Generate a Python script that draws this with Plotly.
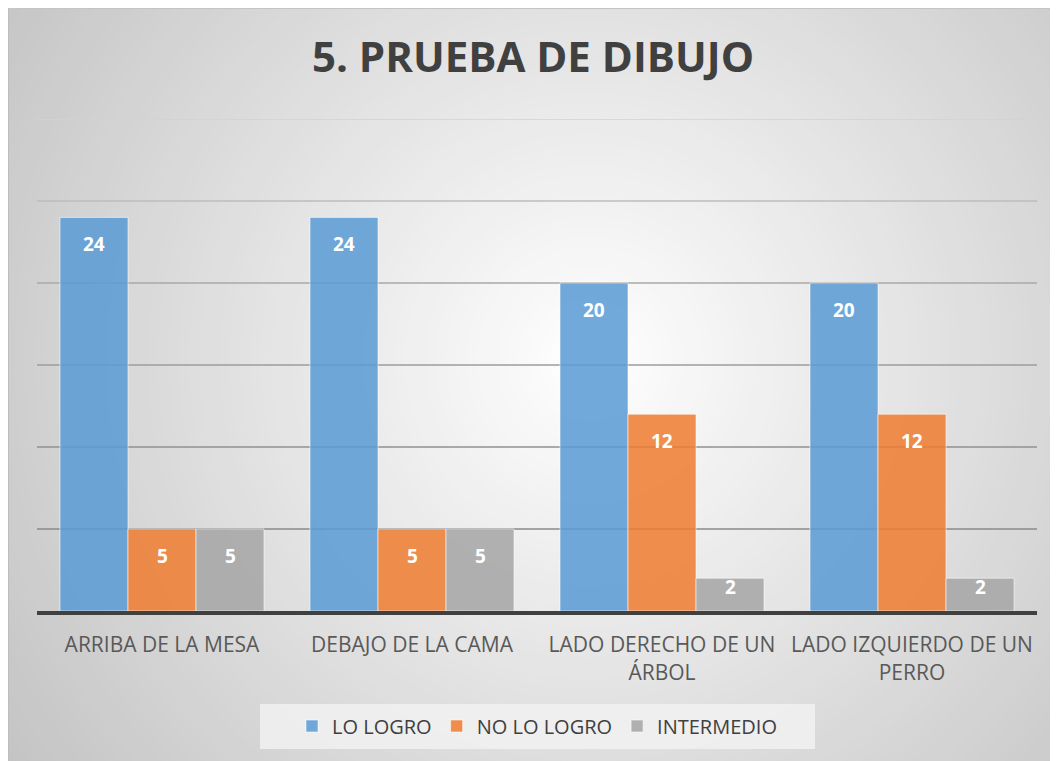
import plotly.graph_objects as go

categories = ["ARRIBA DE LA MESA", "DEBAJO DE LA CAMA",
              "LADO DERECHO DE UN<br>ÁRBOL", "LADO IZQUIERDO DE UN<br>PERRO"]
lo_logro = [24, 24, 20, 20]
no_lo_logro = [5, 5, 12, 12]
intermedio = [5, 5, 2, 2]
series_names = ["LO LOGRO", "NO LO LOGRO", "INTERMEDIO"]
series_colors = ["rgba(91,155,213,0.86)", "rgba(237,125,49,0.86)", "rgba(165,165,165,0.86)"]
grid_values = [5, 10, 15, 20, 25, 30]
grid_colors = ["#8a8a8a", "#909090", "#9c9c9c", "#a8a8a8", "#bcbcbc", "#d2d2d2"]

# page has an 8px body margin: figure starts at screen (8, 8)
OFF = 8
SW, SH = 1058, 761
W, H = SW - OFF, SH - OFF
PL, PR, PT, PB = 37, 1037, 119, 611   # plot area in screen pixels
ML, MR, MT, MB = PL - OFF, SW - PR, PT - OFF, SH - PB
PW, PH = PR - PL, PB - PT
YMAX = 30
BARGAP = 0.184


def px(x):
    return (x - PL) / PW


def py(y):
    return (PB - y) / PH


fig = go.Figure()
all_series = [lo_logro, no_lo_logro, intermedio]
for name, vals, col in zip(series_names, all_series, series_colors):
    fig.add_trace(go.Bar(
        x=categories, y=vals, name=name,
        marker=dict(color=col, line=dict(color="rgba(255,255,255,0.55)", width=1)),
    ))

# data labels (inside end, white bold)
group_px = PW / len(categories)
bar_px = group_px * (1 - BARGAP) / len(all_series)
annotations = []
for k, vals in enumerate(all_series):
    for cat, v in zip(categories, vals):
        h = v * PH / YMAX
        off = min(27, h - 24)
        annotations.append(dict(
            x=cat, y=v, xref="x", yref="y", text=f"<b>{v}</b>", showarrow=False,
            xshift=(k - 1) * bar_px, yshift=-off, yanchor="middle",
            font=dict(family="Open Sans", size=19, color="white")))

shapes = []
# radial background gradient
cx, cy = 590, 360
N = 70
rmax = 720
for i in range(N):
    r = rmax * (1 - i / N)
    g = int(round(255 - 0.083 * r))
    g = max(0, min(255, g))
    shapes.append(dict(type="circle", xref="paper", yref="paper", layer="below",
                       x0=px(cx - r), x1=px(cx + r), y0=py(cy + r), y1=py(cy - r),
                       fillcolor=f"rgb({g},{g},{g})", line=dict(width=0)))
shapes.append(dict(type="line", xref="paper", yref="paper", layer="below",
                   x0=px(OFF + 0.5), x1=px(OFF + 0.5), y0=py(OFF), y1=py(SH),
                   line=dict(color="#bdbdbd", width=1)))
shapes.append(dict(type="line", xref="paper", yref="paper", layer="below",
                   x0=px(OFF), x1=px(SW), y0=py(OFF + 0.5), y1=py(OFF + 0.5),
                   line=dict(color="#c4c4c4", width=1)))
# legend box
shapes.append(dict(type="rect", xref="paper", yref="paper", layer="below",
                   x0=px(260), x1=px(815), y0=py(749), y1=py(704),
                   fillcolor="rgba(242,242,242,0.8)", line=dict(width=0)))
# gridlines with fading colors
for gv, gc in zip(grid_values, grid_colors):
    shapes.append(dict(type="line", xref="paper", yref="y", layer="below",
                       x0=0, x1=1, y0=gv, y1=gv, line=dict(color=gc, width=1.5)))

fig.update_layout(
    width=W, height=H,
    margin=dict(l=ML, r=MR, t=MT, b=MB, autoexpand=False),
    paper_bgcolor="white", plot_bgcolor="rgba(0,0,0,0)",
    barmode="group", bargap=BARGAP, bargroupgap=0,
    shapes=shapes, annotations=annotations,
    title=dict(text="<b>5. PRUEBA DE DIBUJO</b>", x=0.5, xanchor="center",
               y=1 - 49 / H, yanchor="middle", yref="container",
               font=dict(family="Open Sans", size=42, color="#404040")),
    showlegend=True,
    legend=dict(orientation="h", x=px(537), xanchor="center", y=py(726), yanchor="middle",
                bgcolor="rgba(0,0,0,0)",
                font=dict(family="Open Sans", size=20, color="#404040"),
                itemclick=False, traceorder="normal", itemwidth=30),
    font=dict(family="Open Sans"),
)
fig.update_xaxes(showline=True, linecolor="#404040", linewidth=4, ticks="",
                 tickfont=dict(family="Open Sans", size=21, color="#595959"),
                 showgrid=False, ticklabelstandoff=12)
fig.update_yaxes(range=[0, YMAX], showgrid=False, showticklabels=False, zeroline=False,
                 showline=False, ticks="")

fig.write_html("out.html")
